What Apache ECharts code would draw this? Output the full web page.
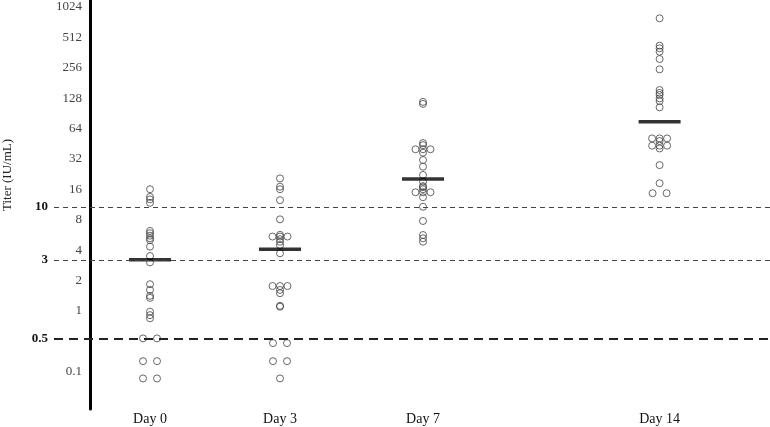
<!DOCTYPE html>
<html>
<head>
<meta charset="utf-8">
<script src="https://cdn.jsdelivr.net/npm/echarts@6/dist/echarts.min.js"></script>
<style>
  html, body { margin: 0; padding: 0; background: #fff; }
  #chart { width: 770px; height: 427px; }
</style>
</head>
<body>
<div id="chart"></div>
<script>
// data
const categories = ['Day 0', 'Day 3', 'Day 7', 'Day 14'];
const day0 = [15, 12.6, 11.9, 11, 5.8, 5.5, 5.2, 4.9, 4.7, 4.05, 3.27, 2.83, 1.72, 1.51, 1.32, 1.26,
  0.92, 0.85, 0.79, 0.5, 0.5, 0.15, 0.15, 0.06, 0.06];
const day3 = [19.2, 15.9, 15, 11.7, 7.55, 5.1, 5.1, 5.1, 5.3, 4.8, 4.53, 4.2, 3.48, 1.65, 1.65, 1.65,
  1.51, 1.4, 1.05, 1.03, 0.39, 0.39, 0.15, 0.15, 0.06];
const day7 = [110, 105, 43, 41, 37.3, 37.3, 37.3, 34.5, 29.2, 25.1, 20.8, 17.8, 16.1, 15.7, 15,
  14, 14, 14, 12.5, 10.06, 7.27, 5.28, 4.9, 4.53];
const day14 = [739, 396, 373, 345, 292, 231, 144, 135, 129, 119, 112, 97, 47.8, 47.8, 47.8, 45,
  40.5, 40.5, 40.5, 38, 26, 17.2, 13.7, 13.7];
const means = [3, 3.81, 18.9, 70];
const yTickValues = [0.1, 1, 2, 4, 8, 16, 32, 64, 128, 256, 512, 1024];
const yTickLabels = ['0.1', '1', '2', '4', '8', '16', '32', '64', '128', '256', '512', '1024'];
const thresholds = [10, 3, 0.5];
const thresholdLabels = ['10', '3', '0.5'];

// layout
const dayPos = [0, 1, 2.1, 3.92];
const pxPerUnit = 130;
const font = '"Liberation Serif", "DejaVu Serif", serif';

// log2 above 0.5, compressed below it
function toT(v) {
  return v >= 0.5 ? Math.log2(v) : -1 + Math.log(v / 0.5) / Math.log(5);
}

// spread identical values side by side
function dots(values, g) {
  const counts = {}, seen = {};
  values.forEach(v => { counts[v] = (counts[v] || 0) + 1; });
  return values.map(v => {
    const n = counts[v];
    const i = seen[v] || 0;
    seen[v] = i + 1;
    let off = 0;
    if (n === 2) off = i === 0 ? -7 : 7;
    else if (n > 2) off = (i - (n - 1) / 2) * 7.5;
    return [dayPos[g] + off / pxPerUnit, toT(v)];
  });
}

const groups = [day0, day3, day7, day14];
const dotSeries = groups.map((vals, g) => ({
  type: 'scatter',
  symbol: 'circle',
  symbolSize: 7,
  itemStyle: { color: 'rgba(0,0,0,0)', borderColor: '#444', borderWidth: 1 },
  data: dots(vals, g),
  z: 3
}));

const thinDash = { type: [5, 4], color: '#444', width: 1 };
const thickDash = { type: [9, 6], color: '#222', width: 2 };

const chart = echarts.init(document.getElementById('chart'));
chart.setOption({
  animation: false,
  grid: { left: 54, right: 0, top: 0, bottom: 18 },
  xAxis: {
    type: 'value',
    min: -(150 - 54) / pxPerUnit,
    max: (770 - 150) / pxPerUnit,
    axisLine: { show: false, onZero: false },
    axisTick: { show: false },
    splitLine: { show: false },
    axisLabel: {
      customValues: dayPos,
      margin: 3,
      fontFamily: font,
      fontSize: 14,
      color: '#111',
      formatter: v => {
        const i = dayPos.findIndex(p => Math.abs(p - v) < 1e-6);
        return i >= 0 ? categories[i] : '';
      }
    }
  },
  yAxis: {
    type: 'value',
    min: (308 - 409) / 30.4,
    max: 308 / 30.4,
    offset: -36,
    axisLine: { show: true, onZero: false, lineStyle: { color: '#000', width: 3 } },
    axisTick: { show: false },
    splitLine: { show: false },
    axisLabel: {
      customValues: yTickValues.map(toT),
      margin: 8,
      fontFamily: font,
      fontSize: 13,
      color: '#444',
      rich: { t: { fontFamily: font, fontSize: 13, color: '#444', padding: [6, 0, 0, 0] } },
      formatter: v => {
        const i = yTickValues.findIndex(t => Math.abs(toT(t) - v) < 1e-6);
        return i >= 0 ? '{t|' + yTickLabels[i] + '}' : '';
      }
    }
  },
  graphic: [{
    type: 'text',
    x: 8,
    y: 175,
    rotation: Math.PI / 2,
    style: {
      text: 'Titer (IU/mL)',
      font: '13px ' + font,
      fill: '#222',
      textAlign: 'center',
      textVerticalAlign: 'middle'
    }
  }],
  series: dotSeries.concat([{
    type: 'scatter',
    symbol: 'rect',
    symbolSize: [42, 3.5],
    itemStyle: { color: '#000' },
    data: means.map((m, g) => [dayPos[g], toT(m)]),
    z: 4,
    markLine: {
      silent: true,
      symbol: 'none',
      animation: false,
      label: {
        position: 'start',
        distance: 6,
        fontFamily: font,
        fontSize: 13,
        fontWeight: 'bold',
        color: '#111'
      },
      data: thresholds.map((t, i) => ({
        yAxis: toT(t),
        label: { formatter: thresholdLabels[i] },
        lineStyle: t === 0.5 ? thickDash : thinDash
      }))
    }
  }])
});
</script>
</body>
</html>
